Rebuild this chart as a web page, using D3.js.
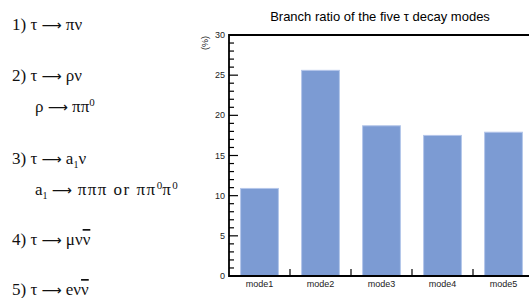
<!DOCTYPE html>
<meta charset="utf-8">
<style>
body { margin: 0; background: #fff; }
.decay text { font-family: "Liberation Serif", "Times New Roman", serif; font-size: 17px; fill: #111; }
.decay .arrow { font-family: "DejaVu Sans", sans-serif; font-size: 14px; }
.decay .wide { letter-spacing: 1.5px; }
.title { font-family: "Liberation Sans", Arial, sans-serif; font-size: 13px; fill: #000; }
.axis text { font-family: "Liberation Sans", Arial, sans-serif; font-size: 9px; fill: #222; }
</style>
<svg width="529" height="298"></svg>
<script src="https://d3js.org/d3.v7.min.js"></script>
<script>

var modes = ["mode1", "mode2", "mode3", "mode4", "mode5"];
var ratios = [10.9, 25.6, 18.7, 17.5, 17.9];
var yTicks = [0, 5, 10, 15, 20, 25, 30];

// decay chains: [text, kind] where kind is "" / "sup" / "sub" / "bar" / "arrow" / "wide"
var decays = [
  {indent: 0, line: [["1) τ ", ""], ["⟶", "arrow"], [" πν", ""]]},
  {indent: 0, line: [["2) τ ", ""], ["⟶", "arrow"], [" ρν", ""]]},
  {indent: 1, line: [["ρ ", ""], ["⟶", "arrow"], [" ππ", ""], ["0", "sup"]]},
  {indent: 0, line: [["3) τ ", ""], ["⟶", "arrow"], [" a", ""], ["1", "sub"], ["ν", ""]]},
  {indent: 1, line: [["a", ""], ["1", "sub"], [" ", ""], ["⟶", "arrow"], [" πππ or ππ", "wide"], ["0", "sup"], ["π", "wide"], ["0", "sup"]]},
  {indent: 0, line: [["4) τ ", ""], ["⟶", "arrow"], [" μν", ""], ["ν", "bar"]]},
  {indent: 0, line: [["5) τ ", ""], ["⟶", "arrow"], [" eν", ""], ["ν", "bar"]]}
];
var decayY = [29.5, 80.5, 112, 164, 195, 245, 295];

var svg = d3.select("svg");

// left hand list of the decay modes
var dg = svg.append("g").attr("class", "decay");
decays.forEach(function(d, i) {
  var t = dg.append("text")
      .attr("x", d.indent ? 35 : 12)
      .attr("y", decayY[i]);
  var off = 0;
  d.line.forEach(function(s) {
    var want = s[1] == "sup" ? -6 : s[1] == "sub" ? 4 : 0;
    var sp = t.append("tspan").text(s[0]);
    if (want != off) sp.attr("dy", want - off);
    off = want;
    if (s[1] == "sup") sp.attr("font-size", 11);
    if (s[1] == "sub") sp.attr("font-size", 10);
    if (s[1] == "bar") sp.attr("text-decoration", "overline");
    if (s[1] == "arrow" || s[1] == "wide") sp.attr("class", s[1]);
  });
});

// bar chart
var x = d3.scaleBand().domain(modes).range([229, 534]).paddingInner(0.38).paddingOuter(0.19);
var y = d3.scaleLinear().domain([0, 30]).range([276, 35]);

svg.append("text")
    .attr("class", "title")
    .attr("x", 380)
    .attr("y", 21)
    .attr("text-anchor", "middle")
    .text("Branch ratio of the five τ decay modes");

svg.append("g").selectAll("rect")
  .data(ratios)
  .enter().append("rect")
    .attr("x", function(d, i) { return x(modes[i]); })
    .attr("y", function(d) { return y(d); })
    .attr("width", x.bandwidth())
    .attr("height", function(d) { return y(0) - y(d); })
    .attr("fill", "#7c9bd3")
    .attr("stroke", "#b4c6ea")
    .attr("stroke-width", 1);

// y axis with minor ticks pointing inside
var yAxis = svg.append("g").attr("class", "axis");
yAxis.selectAll(".minor")
  .data(d3.range(0, 31))
  .enter().append("line")
    .attr("x1", 229).attr("x2", function(d) { return d % 5 ? 234 : 238; })
    .attr("y1", function(d) { return y(d); })
    .attr("y2", function(d) { return y(d); })
    .attr("stroke", "#000").attr("stroke-width", 1.2);
yAxis.selectAll("text")
  .data(yTicks)
  .enter().append("text")
    .attr("x", 225)
    .attr("y", function(d) { return y(d) + 3; })
    .attr("text-anchor", "end")
    .text(function(d) { return d; });
yAxis.append("text")
    .attr("transform", "translate(208," + 43 + ") rotate(-90)")
    .attr("text-anchor", "middle")
    .attr("font-size", 8)
    .text("(%)");

// frame: left, top, bottom
svg.append("path")
    .attr("d", "M529," + y(30) + "H229V" + y(0) + "H529")
    .attr("fill", "none")
    .attr("stroke", "#000")
    .attr("stroke-width", 1.8);

// x axis: ticks between the categories, labels under each bar
var xAxis = svg.append("g").attr("class", "axis");
xAxis.selectAll("line")
  .data(modes.slice(1))
  .enter().append("line")
    .attr("x1", function(d) { return x(d) - x.step() * x.paddingInner() / 2; })
    .attr("x2", function(d) { return x(d) - x.step() * x.paddingInner() / 2; })
    .attr("y1", y(0)).attr("y2", y(0) - 7)
    .attr("stroke", "#000").attr("stroke-width", 1.2);
xAxis.selectAll("text")
  .data(modes)
  .enter().append("text")
    .attr("x", function(d) { return x(d) + x.bandwidth() / 2; })
    .attr("y", 287)
    .attr("text-anchor", "middle")
    .attr("font-size", 8)
    .text(function(d) { return d; });

</script>
